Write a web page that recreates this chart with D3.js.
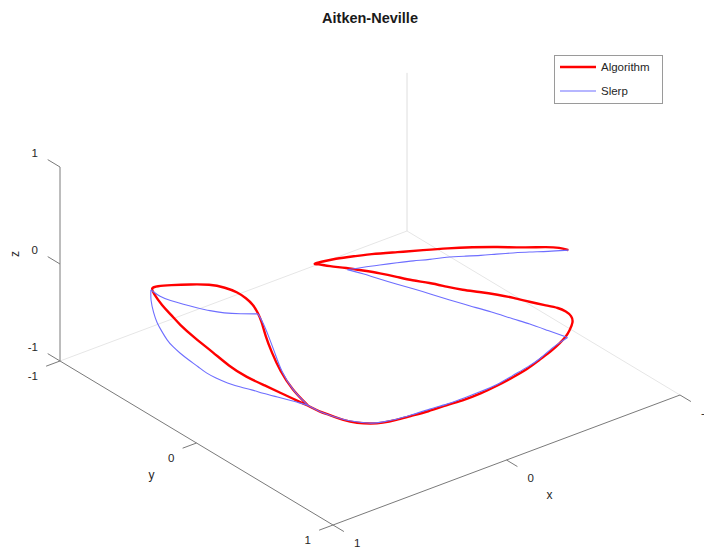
<!DOCTYPE html>
<html><head><meta charset="utf-8">
<script src="https://cdn.jsdelivr.net/npm/d3@7"></script>
<style>body{margin:0;background:#fff}svg{display:block}text{font-family:'Liberation Sans',Arial,sans-serif;fill:#262626}</style>
</head><body>
<svg id="c" width="704" height="551"></svg>
<script>
// ---- data (unit vectors in x, y, z) ----
const title = "Aitken-Neville";
const seriesNames = ["Algorithm", "Slerp"];
const xTicks = [-1, 0, 1];
const yTicks = [-1, 0, 1];
const zTicks = [-1, 0, 1];
const algorithm = [[.79,.55,-.29],[.85,.51,-.12],[.88,.46,.05],[.89,.41,.21],[.88,.35,.33],[.86,.30,.41],[.85,.26,.46],[.84,.21,.50],[.84,.16,.52],[.84,.10,.53],[.85,.02,.52],[.87,-.07,.49],[.89,-.18,.41],[.90,-.32,.29],[.89,-.43,.18],[.83,-.55,.02],[.88,-.47,.07],[.94,-.33,.10],[.97,-.22,.11],[.99,-.14,.10],[1.00,-.01,.07],[.99,.11,.02],[.98,.21,-.04],[.95,.30,-.10],[.91,.39,-.14],[.87,.45,-.19],[.83,.50,-.24],[.79,.55,-.29],[.74,.57,-.37],[.68,.58,-.44],[.62,.59,-.52],[.53,.58,-.62],[.45,.58,-.68],[.44,.65,-.62],[.43,.74,-.52],[.40,.80,-.45],[.34,.86,-.39],[.27,.90,-.34],[.19,.94,-.30],[.12,.96,-.27],[.03,.97,-.24],[-.05,.98,-.20],[-.14,.98,-.17],[-.22,.96,-.15],[-.31,.94,-.13],[-.37,.92,-.11],[-.42,.90,-.10],[-.45,.89,-.06],[-.48,.88,0],[-.47,.88,.07],[-.43,.89,.15],[-.38,.90,.23],[-.30,.90,.31],[-.22,.89,.39],[-.14,.87,.47],[-.07,.85,.53],[.01,.81,.58],[.08,.78,.62],[.14,.74,.66],[.20,.69,.70],[.26,.64,.72],[.31,.59,.75],[.36,.53,.77],[.41,.47,.78],[.46,.41,.79],[.51,.35,.79],[.54,.30,.79],[.55,.28,.78],[.52,.30,.80],[.47,.33,.82],[.42,.36,.83],[.32,.42,.85],[.22,.48,.85],[.11,.53,.84],[0,.57,.82],[-.11,.61,.79],[-.23,.64,.74],[-.36,.66,.66],[-.51,.65,.56],[-.59,.64,.49],[-.64,.64,.43]];
const slerp = [[.79,.55,-.29],[.85,.51,-.12],[.88,.47,.05],[.88,.42,.21],[.87,.36,.33],[.86,.31,.41],[.85,.26,.45],[.89,.18,.41],[.92,.10,.37],[.94,.02,.34],[.95,-.06,.31],[.95,-.16,.26],[.94,-.27,.20],[.92,-.37,.14],[.83,-.55,0],[.84,-.54,-.09],[.87,-.48,-.15],[.89,-.43,-.20],[.90,-.38,-.24],[.91,-.33,-.28],[.91,-.29,-.31],[.94,-.20,-.28],[.95,-.12,-.28],[.95,-.05,-.29],[.96,.02,-.29],[.96,.09,-.28],[.95,.16,-.28],[.93,.24,-.27],[.92,.30,-.25],[.90,.36,-.25],[.87,.41,-.26],[.84,.46,-.27],[.81,.51,-.28],[.79,.55,-.29],[.74,.57,-.37],[.68,.59,-.44],[.61,.60,-.52],[.55,.61,-.57],[.49,.63,-.61],[.46,.68,-.57],[.44,.75,-.50],[.40,.81,-.43],[.33,.86,-.37],[.27,.91,-.32],[.19,.94,-.28],[.12,.96,-.25],[.03,.97,-.23],[-.05,.98,-.18],[-.14,.98,-.15],[-.23,.96,-.14],[-.31,.94,-.10],[-.38,.92,-.10],[-.43,.90,-.11],[-.27,.96,.12],[-.17,.95,.25],[-.09,.94,.34],[.01,.90,.45],[.09,.85,.52],[.17,.79,.59],[.23,.73,.64],[.28,.68,.68],[.33,.62,.71],[.38,.55,.74],[.42,.49,.77],[.46,.42,.78],[.40,.46,.80],[.33,.49,.80],[.26,.53,.81],[.19,.56,.81],[.12,.59,.80],[.04,.61,.79],[-.04,.64,.77],[-.12,.66,.74],[-.20,.67,.71],[-.29,.68,.67],[-.38,.68,.62],[-.49,.68,.55],[-.64,.64,.43]];
const slerpKeyframes = [0, 6, 14, 33, 52, 64, 77]; // indices of key orientations in slerp

// ---- 3D projection built from linear scales ----
const origin = [370, 281];
const sxX = d3.scaleLinear().domain([-1, 1]).range([173.5, -173.5]);
const syX = d3.scaleLinear().domain([-1, 1]).range([-65, 65]);
const sxY = d3.scaleLinear().domain([-1, 1]).range([-136.5, 136.5]);
const syY = d3.scaleLinear().domain([-1, 1]).range([-82, 82]);
const syZ = d3.scaleLinear().domain([-1, 1]).range([97, -97]);
const P = (x, y, z) => [origin[0] + sxX(x) + sxY(y), origin[1] + syX(x) + syY(y) + syZ(z)];

const svg = d3.select("#c");
const seg = (a, b, col, w) => svg.append("line").attr("x1", a[0]).attr("y1", a[1]).attr("x2", b[0]).attr("y2", b[1])
  .attr("stroke", col).attr("stroke-width", w);

// faint back edges of the box
const faint = "#e6e6e6";
seg(P(1, -1, -1), P(-1, -1, -1), faint, 1);
seg(P(-1, -1, -1), P(-1, 1, -1), faint, 1);
seg(P(-1, -1, -1), P(-1, -1, 0.63), "#dedede", 1);

// axes
const axCol = "#7a7a7a";
seg(P(1, -1, -1), P(1, -1, 1), axCol, 1);
seg(P(1, -1, -1), P(1, 1, -1), axCol, 1);
seg(P(1, 1, -1), P(-1, 1, -1), axCol, 1);

const fs = "11.5px";
zTicks.forEach(t => {
  const b = P(1, -1, t); seg(b, P(1, -1.09, t), axCol, 1);
  svg.append("text").attr("x", b[0] - 22).attr("y", b[1] - 14).attr("text-anchor", "end")
    .attr("dominant-baseline", "central").style("font-size", fs).text(t);
});
yTicks.forEach(t => {
  const b = P(1, t, -1); seg(b, P(1.08, t, -1), axCol, 1);
  svg.append("text").attr("x", b[0] - 22).attr("y", b[1] + 15).attr("text-anchor", "end")
    .attr("dominant-baseline", "central").style("font-size", fs).text(t);
});
xTicks.forEach(t => {
  const b = P(t, 1, -1); seg(b, P(t, 1.08, -1), axCol, 1);
  svg.append("text").attr("x", b[0] + 21).attr("y", b[1] + 18).attr("text-anchor", "start")
    .attr("dominant-baseline", "central").style("font-size", fs).text(t);
});
// axis titles
const zl = P(1, -1, 0);
svg.append("text").attr("transform", `translate(${zl[0] - 45},${zl[1] - 10}) rotate(-90)`).attr("text-anchor", "middle")
  .attr("dominant-baseline", "central").style("font-size", "12px").text("z");
const yl = P(1, 0, -1);
svg.append("text").attr("x", yl[0] - 45).attr("y", yl[1] + 32).attr("text-anchor", "middle")
  .attr("dominant-baseline", "central").style("font-size", "12px").text("y");
const xl = P(0, 1, -1);
svg.append("text").attr("x", xl[0] + 43).attr("y", xl[1] + 35).attr("text-anchor", "middle")
  .attr("dominant-baseline", "central").style("font-size", "12px").text("x");

// curves
const line = d3.line().x(d => P(...d)[0]).y(d => P(...d)[1]).curve(d3.curveBasis);
svg.append("path").attr("d", line(algorithm))
  .attr("fill", "none").attr("stroke", "#ff0000").attr("stroke-width", 2.4).attr("stroke-linejoin", "round");
for (let i = 0; i < slerpKeyframes.length - 1; i++) {
  const part = slerp.slice(slerpKeyframes[i], slerpKeyframes[i + 1] + 1);
  svg.append("path").attr("d", line(part))
    .attr("fill", "none").attr("stroke", "#6e6eff").attr("stroke-width", 1.1);
}

// title
svg.append("text").attr("x", 370).attr("y", 18).attr("text-anchor", "middle").attr("dominant-baseline", "central")
  .style("font-size", "14.5px").style("font-weight", "bold").style("fill", "#1a1a1a").text(title);

// legend
const lg = svg.append("g");
lg.append("rect").attr("x", 554.5).attr("y", 55.5).attr("width", 108).attr("height", 48)
  .attr("fill", "#fff").attr("stroke", "#9a9a9a").attr("stroke-width", 1);
[["#ff0000", 2.4], ["#6e6eff", 1.1]].forEach((s, i) => {
  const y = 67 + i * 24;
  lg.append("line").attr("x1", 560).attr("x2", 596).attr("y1", y).attr("y2", y).attr("stroke", s[0]).attr("stroke-width", s[1]);
  lg.append("text").attr("x", 601).attr("y", y).attr("dominant-baseline", "central").style("font-size", "11.5px").text(seriesNames[i]);
});
</script>
</body></html>
